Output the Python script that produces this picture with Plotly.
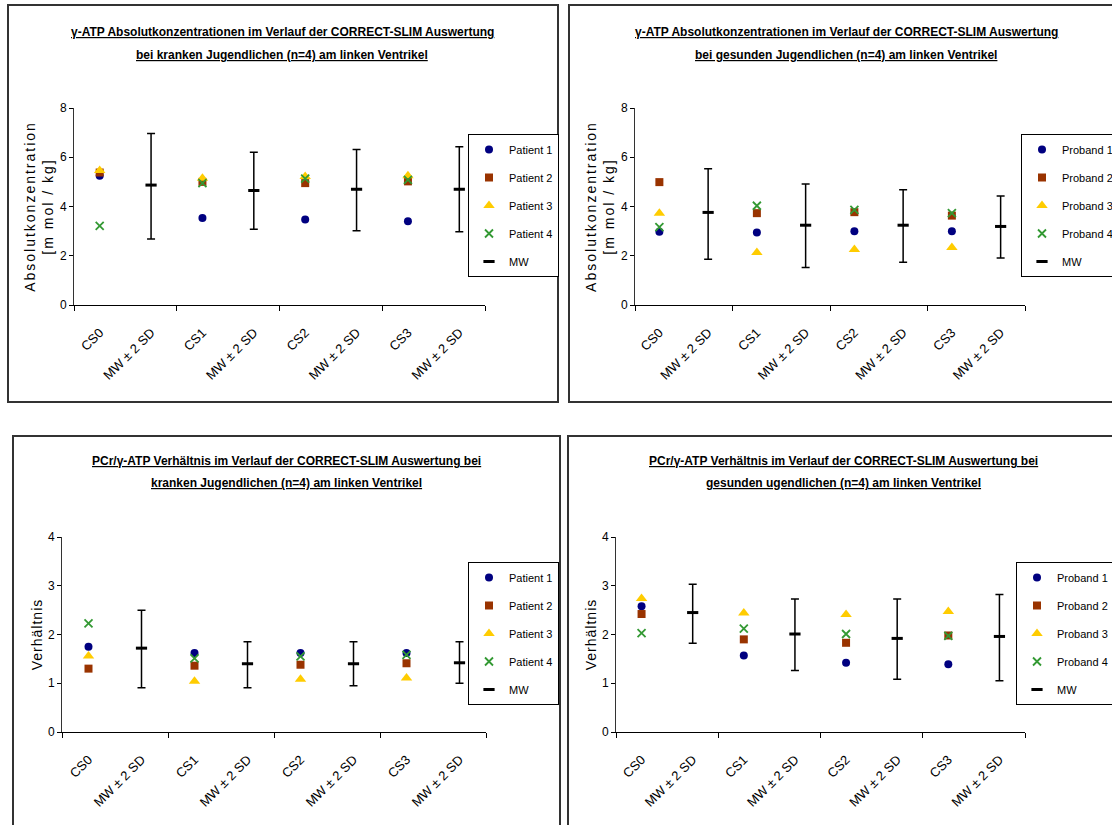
import plotly.graph_objects as go

W, H = 1112, 825

# ---------------- data ----------------
x_labels = ["CS0", "MW ± 2 SD", "CS1", "MW ± 2 SD", "CS2", "MW ± 2 SD", "CS3", "MW ± 2 SD"]

# gamma-ATP absolute concentrations, patients (krank)
atp_krank_p1 = [5.25, 3.53, 3.47, 3.40]
atp_krank_p2 = [5.38, 5.00, 4.95, 5.02]
atp_krank_p3 = [5.46, 5.15, 5.22, 5.25]
atp_krank_p4 = [3.21, 4.95, 5.13, 5.08]
atp_krank_mw = [4.87, 4.65, 4.70, 4.70]
atp_krank_hi = [6.96, 6.20, 6.31, 6.43]
atp_krank_lo = [2.68, 3.08, 3.02, 2.97]

# gamma-ATP absolute concentrations, probands (gesund)
atp_ges_p1 = [2.97, 2.94, 3.00, 3.00]
atp_ges_p2 = [4.99, 3.73, 3.77, 3.63]
atp_ges_p3 = [3.73, 2.13, 2.25, 2.33]
atp_ges_p4 = [3.16, 4.03, 3.86, 3.73]
atp_ges_mw = [3.76, 3.24, 3.24, 3.19]
atp_ges_hi = [5.53, 4.91, 4.68, 4.43]
atp_ges_lo = [1.86, 1.52, 1.74, 1.91]

# PCr/gamma-ATP ratio, patients (krank)
pcr_krank_p1 = [1.75, 1.62, 1.62, 1.62]
pcr_krank_p2 = [1.30, 1.36, 1.38, 1.41]
pcr_krank_p3 = [1.56, 1.04, 1.08, 1.11]
pcr_krank_p4 = [2.23, 1.51, 1.55, 1.58]
pcr_krank_mw = [1.72, 1.40, 1.40, 1.42]
pcr_krank_hi = [2.50, 1.85, 1.85, 1.85]
pcr_krank_lo = [0.91, 0.91, 0.95, 1.00]

# PCr/gamma-ATP ratio, probands (gesund)
pcr_ges_p1 = [2.58, 1.57, 1.42, 1.39]
pcr_ges_p2 = [2.42, 1.90, 1.83, 1.98]
pcr_ges_p3 = [2.74, 2.44, 2.41, 2.47]
pcr_ges_p4 = [2.03, 2.12, 2.01, 1.97]
pcr_ges_mw = [2.45, 2.01, 1.92, 1.96]
pcr_ges_hi = [3.03, 2.73, 2.73, 2.82]
pcr_ges_lo = [1.82, 1.26, 1.08, 1.05]

titles = [
    ["γ-ATP Absolutkonzentrationen im Verlauf der CORRECT-SLIM Auswertung",
     "bei kranken Jugendlichen (n=4) am linken Ventrikel"],
    ["γ-ATP Absolutkonzentrationen im Verlauf der CORRECT-SLIM Auswertung",
     "bei gesunden Jugendlichen (n=4) am linken Ventrikel"],
    ["PCr/γ-ATP Verhältnis im Verlauf der CORRECT-SLIM Auswertung bei",
     "kranken Jugendlichen (n=4) am linken Ventrikel"],
    ["PCr/γ-ATP Verhältnis im Verlauf der CORRECT-SLIM Auswertung bei",
     "gesunden ugendlichen (n=4) am linken Ventrikel"],
]
y_titles = [
    ["Absolutkonzentration", "[m mol / kg]"],
    ["Absolutkonzentration", "[m mol / kg]"],
    ["Verhältnis"],
    ["Verhältnis"],
]

panels = [
    dict(series=[atp_krank_p1, atp_krank_p2, atp_krank_p3, atp_krank_p4], mw=atp_krank_mw,
         hi=atp_krank_hi, lo=atp_krank_lo, names=["Patient 1", "Patient 2", "Patient 3", "Patient 4"],
         yrange=[0, 8], dtick=2),
    dict(series=[atp_ges_p1, atp_ges_p2, atp_ges_p3, atp_ges_p4], mw=atp_ges_mw,
         hi=atp_ges_hi, lo=atp_ges_lo, names=["Proband 1", "Proband 2", "Proband 3", "Proband 4"],
         yrange=[0, 8], dtick=2),
    dict(series=[pcr_krank_p1, pcr_krank_p2, pcr_krank_p3, pcr_krank_p4], mw=pcr_krank_mw,
         hi=pcr_krank_hi, lo=pcr_krank_lo, names=["Patient 1", "Patient 2", "Patient 3", "Patient 4"],
         yrange=[0, 4], dtick=1),
    dict(series=[pcr_ges_p1, pcr_ges_p2, pcr_ges_p3, pcr_ges_p4], mw=pcr_ges_mw,
         hi=pcr_ges_hi, lo=pcr_ges_lo, names=["Proband 1", "Proband 2", "Proband 3", "Proband 4"],
         yrange=[0, 4], dtick=1),
]

# ---------------- layout geometry (pixels) ----------------
SANS = "Liberation Sans, Arial, sans-serif"

plot_boxes = [  # x0, x1, ytop, ybottom
    (74, 485, 108, 305),
    (635, 1025, 108, 305),
    (62, 486, 537, 732),
    (616, 1025, 537, 732),
]
frames = [(8, 558, 5, 402), (569, 1120, 5, 402), (13, 560, 436, 830), (568, 1120, 436, 830)]
title_pos = [(282, 32, 55), (846, 32, 55), (286, 461, 483), (843, 461, 483)]
# (x, y, anchor)
legend_pos = [(559, 134, "right"), (1021, 134, "left"), (559, 562, "right"), (1016, 562, "left")]
ytitle_spacing = ["2px", "2px", "1px", "1px"]

styles = [
    dict(symbol="circle", color="#000080", size=8, line=dict(width=0)),
    dict(symbol="square", color="#993300", size=8, line=dict(width=0)),
    dict(symbol="triangle-up", color="#FFCC00", size=10, line=dict(width=0)),
    dict(symbol="x-thin", color="#339933", size=8, line=dict(width=1.8, color="#339933")),
]


def px_x(p):
    return p / W


def px_y(p):
    return 1 - p / H


fig = go.Figure()
xs_cs = [0, 2, 4, 6]
xs_mw = [1, 3, 5, 7]

for i, pn in enumerate(panels):
    sfx = "" if i == 0 else str(i + 1)
    xa, ya = "x" + sfx, "y" + sfx
    leg = "legend" if i == 0 else "legend" + str(i + 1)
    for k, (vals, name) in enumerate(zip(pn["series"], pn["names"])):
        st = styles[k]
        fig.add_trace(go.Scatter(
            x=xs_cs, y=vals, mode="markers", name=name, xaxis=xa, yaxis=ya,
            legend=leg, legendgroup=f"g{i}_{k}",
            marker=dict(symbol=st["symbol"], color=st["color"], size=st["size"], line=st["line"]),
        ))
    plus = [h - m for h, m in zip(pn["hi"], pn["mw"])]
    minus = [m - l for m, l in zip(pn["mw"], pn["lo"])]
    fig.add_trace(go.Scatter(
        x=xs_mw, y=pn["mw"], mode="markers", name="MW", xaxis=xa, yaxis=ya,
        legend=leg, legendgroup=f"g{i}_mw",
        marker=dict(symbol="line-ew", size=8, line=dict(width=3, color="black"), color="black"),
        error_y=dict(type="data", symmetric=False, array=plus, arrayminus=minus,
                     color="black", thickness=1.5, width=4),
    ))

    ytxt = "<br>".join(
        f'<span style="letter-spacing:{ytitle_spacing[i]}">{t}</span>' for t in y_titles[i]
    )

    x0, x1, yt, yb = plot_boxes[i]
    fig.update_layout(**{
        "xaxis" + sfx: dict(
            domain=[px_x(x0), px_x(x1)], anchor=ya, range=[-0.5, 7.5],
            tickmode="array", tickvals=list(range(8)), ticktext=x_labels,
            ticks="", tickangle=-45, ticklabelstandoff=14,
            tickfont=dict(family=SANS, size=13, color="black"),
            showline=True, linecolor="black", linewidth=1, showgrid=False, zeroline=False,
            minor=dict(tickmode="array", tickvals=[-0.5, 1.5, 3.5, 5.5, 7.5], ticks="outside",
                       ticklen=5, tickcolor="black", tickwidth=1, showgrid=False),
            fixedrange=True,
        ),
        "yaxis" + sfx: dict(
            domain=[px_y(yb), px_y(yt)], anchor=xa, range=pn["yrange"], dtick=pn["dtick"],
            ticks="outside", ticklen=4, tickcolor="black",
            tickfont=dict(family=SANS, size=12, color="black"),
            showline=True, linecolor="#333333", linewidth=1, showgrid=False, zeroline=False,
            title=dict(text=ytxt, font=dict(family=SANS, size=14, color="black"), standoff=2),
            fixedrange=True,
        ),
    })

    lx, ly, anc = legend_pos[i]
    fig.update_layout(**{
        leg: dict(
            x=px_x(lx), y=px_y(ly), xanchor=anc, yanchor="top",
            bgcolor="white", bordercolor="black", borderwidth=1,
            font=dict(family=SANS, size=11, color="black"),
            itemwidth=30, tracegroupgap=9, traceorder="grouped",
        )
    })

    tx, ty1, ty2 = title_pos[i]
    for txt, ty in zip(titles[i], (ty1, ty2)):
        fig.add_annotation(
            x=px_x(tx), y=px_y(ty), xref="paper", yref="paper", xanchor="center", yanchor="middle",
            text=f"<b><u>{txt}</u></b>", showarrow=False,
            font=dict(family=SANS, size=12, color="black"), align="center",
        )

    fx0, fx1, fy0, fy1 = frames[i]
    fig.add_shape(type="rect", xref="paper", yref="paper",
                  x0=px_x(fx0), x1=px_x(fx1), y0=px_y(fy1), y1=px_y(fy0),
                  line=dict(color="#333333", width=2), fillcolor="rgba(0,0,0,0)", layer="below")

fig.update_layout(
    width=W, height=H, margin=dict(l=0, r=0, t=0, b=0, autoexpand=False),
    paper_bgcolor="white", plot_bgcolor="white", showlegend=True,
)

fig.write_html("out.html", config={"displayModeBar": False})
